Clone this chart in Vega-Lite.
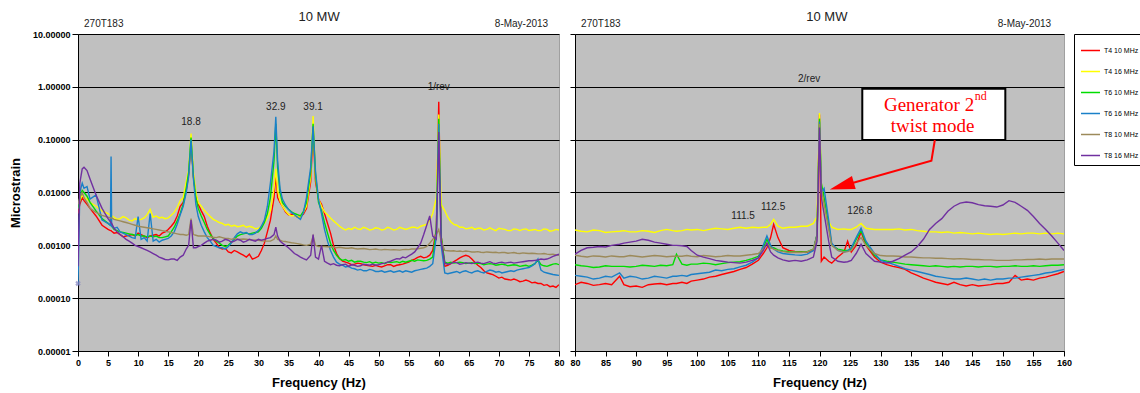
{
"$schema": "https://vega.github.io/schema/vega-lite/v6.json",
"background": "white",
"padding": {"left": 8, "top": 10, "right": 0, "bottom": 0},
"config": {
  "font": "Liberation Sans",
  "view": {"fill": "#c0c0c0", "stroke": "#a0a0a0", "strokeWidth": 1},
  "axis": {"labelFont": "Liberation Sans", "labelFontWeight": "bold", "labelFontSize": 9, "labelColor": "#000", "tickColor": "#000", "domainColor": "#000", "gridColor": "#000", "gridOpacity": 1, "gridWidth": 1, "titleFont": "Liberation Sans", "titleFontWeight": "bold", "titleFontSize": 13, "titleColor": "#000"},
  "axisX": {"labelOverlap": false, "labelFlush": false, "grid": false, "tickSize": 5, "labelPadding": 2, "titlePadding": 9},
  "axisY": {"grid": true},
  "legend": {"labelFont": "Liberation Sans", "labelFontSize": 7, "labelColor": "#000", "symbolType": "stroke", "symbolSize": 360, "symbolStrokeWidth": 1.5, "strokeColor": "#000", "fillColor": "#fff", "padding": 6, "rowPadding": 7, "labelOffset": 3, "offset": 1},
  "concat": {"spacing": 4},
  "text": {"font": "Liberation Sans"}
},
"datasets": {
  "names": [
    {"k": "r", "series": "T4 10 MHz"}, {"k": "y", "series": "T4 16 MHz"}, {"k": "g", "series": "T6 10 MHz"},
    {"k": "b", "series": "T6 16 MHz"}, {"k": "n", "series": "T8 10 MHz"}, {"k": "p", "series": "T8 16 MHz"}
  ],
  "peaksL": [
    {"f": 18.8, "v": 0.217, "t": "18.8"}, {"f": 32.9, "v": 0.42, "t": "32.9"}, {"f": 39.1, "v": 0.42, "t": "39.1"}, {"f": 60, "v": 1.0, "t": "1/rev"}
  ],
  "peaksR": [
    {"f": 118.3, "v": 1.4, "t": "2/rev"}, {"f": 107.5, "v": 0.00357, "t": "111.5"}, {"f": 112.4, "v": 0.00528, "t": "112.5"}, {"f": 126.6, "v": 0.00444, "t": "126.8"}
  ],
  "arrow": [
    {"f": 138.87, "v": 0.0986, "o": 0}, {"f": 138.31, "v": 0.040, "o": 1}, {"f": 123.65, "v": 0.0133, "o": 2}
  ],
  "spec": [
{"f":0,"r":4e-3,"y":5e-3,"g":5e-3,"b":1.8e-4,"n":6e-3,"p":4e-4},
{"f":0.3,"r":6e-3,"y":7e-3,"g":8e-3,"b":1e-2,"n":8e-3,"p":1.5e-2},
{"f":0.7,"r":8e-3,"y":9e-3,"g":1.1e-2,"b":1.5e-2,"n":1e-2,"p":2.8e-2},
{"f":1,"r":7e-3,"y":8e-3,"g":1e-2,"b":1.2e-2,"n":8e-3,"p":3e-2},
{"f":1.5,"r":6e-3,"y":7.5e-3,"g":8.5e-3,"b":1.3e-2,"n":6.5e-3,"p":2.6e-2},
{"f":2,"r":5e-3,"y":6.5e-3,"g":6.5e-3,"b":7.5e-3,"n":5e-3,"p":1.8e-2},
{"f":3,"r":3.6e-3,"y":5.5e-3,"g":4.5e-3,"b":9e-3,"n":4.2e-3,"p":9e-3},
{"f":4,"r":2.4e-3,"y":4.5e-3,"g":3.2e-3,"b":3e-3,"n":3.7e-3,"p":5e-3},
{"f":5,"r":2e-3,"y":4e-3,"g":2.6e-3,"b":2.6e-3,"n":3.4e-3,"p":3.2e-3},
{"f":5.4,"r":1.9e-3,"y":3.7e-3,"g":2.4e-3,"b":2.4e-3,"n":3.3e-3,"p":2.8e-3},
{"f":5.5,"r":1.9e-3,"y":3.8e-3,"g":2.4e-3,"b":4.8e-2,"n":3.3e-3,"p":2.7e-3},
{"f":5.6,"r":1.85e-3,"y":3.6e-3,"g":2.3e-3,"b":2.3e-3,"n":3.3e-3,"p":2.6e-3},
{"f":6,"r":1.7e-3,"y":3.4e-3,"g":2e-3,"b":2.1e-3,"n":3.1e-3,"p":2.1e-3},
{"f":6.5,"r":1.75e-3,"y":3.1e-3,"g":1.9e-3,"b":2.2e-3,"n":3e-3,"p":1.8e-3},
{"f":7,"r":1.6e-3,"y":3.2e-3,"g":1.8e-3,"b":1.8e-3,"n":2.9e-3,"p":1.6e-3},
{"f":7.5,"r":1.45e-3,"y":3.5e-3,"g":1.75e-3,"b":1.7e-3,"n":2.8e-3,"p":1.45e-3},
{"f":8,"r":1.5e-3,"y":3.3e-3,"g":1.7e-3,"b":1.6e-3,"n":2.7e-3,"p":1.3e-3},
{"f":8.5,"r":1.55e-3,"y":3e-3,"g":1.65e-3,"b":1.5e-3,"n":2.6e-3,"p":1.2e-3},
{"f":9,"r":1.6e-3,"y":2.9e-3,"g":1.6e-3,"b":1.4e-3,"n":2.5e-3,"p":1.1e-3},
{"f":9.5,"r":1.5e-3,"y":3.2e-3,"g":1.55e-3,"b":1.35e-3,"n":2.4e-3,"p":1e-3},
{"f":10,"r":1.7e-3,"y":3e-3,"g":1.6e-3,"b":3.5e-3,"n":2.3e-3,"p":9.5e-4},
{"f":10.5,"r":1.6e-3,"y":3.1e-3,"g":1.5e-3,"b":1.3e-3,"n":2.25e-3,"p":9e-4},
{"f":11,"r":1.5e-3,"y":3.3e-3,"g":1.5e-3,"b":1.4e-3,"n":2.2e-3,"p":8.5e-4},
{"f":11.5,"r":1.4e-3,"y":3.8e-3,"g":1.45e-3,"b":1.2e-3,"n":2.15e-3,"p":8e-4},
{"f":12,"r":1.5e-3,"y":4.8e-3,"g":1.5e-3,"b":4e-3,"n":2.1e-3,"p":7.5e-4},
{"f":12.5,"r":1.55e-3,"y":3.4e-3,"g":1.45e-3,"b":1.2e-3,"n":2.05e-3,"p":7e-4},
{"f":13,"r":1.6e-3,"y":3.6e-3,"g":1.5e-3,"b":1.3e-3,"n":2e-3,"p":6.5e-4},
{"f":13.5,"r":1.5e-3,"y":3.3e-3,"g":1.4e-3,"b":1.15e-3,"n":1.95e-3,"p":6e-4},
{"f":14,"r":1.7e-3,"y":3.4e-3,"g":1.4e-3,"b":1.25e-3,"n":1.9e-3,"p":5.7e-4},
{"f":14.5,"r":1.8e-3,"y":3.2e-3,"g":1.45e-3,"b":1.3e-3,"n":1.85e-3,"p":5.4e-4},
{"f":15,"r":2e-3,"y":3.3e-3,"g":1.5e-3,"b":1.35e-3,"n":1.8e-3,"p":5.3e-4},
{"f":15.5,"r":2.3e-3,"y":3.7e-3,"g":1.8e-3,"b":1.5e-3,"n":1.75e-3,"p":5.5e-4},
{"f":16,"r":2.7e-3,"y":4.2e-3,"g":2.2e-3,"b":1.8e-3,"n":1.7e-3,"p":5.5e-4},
{"f":16.5,"r":3.6e-3,"y":5.2e-3,"g":2.9e-3,"b":2.5e-3,"n":1.65e-3,"p":5.2e-4},
{"f":17,"r":5.5e-3,"y":7e-3,"g":4e-3,"b":3.8e-3,"n":1.6e-3,"p":6e-4},
{"f":17.5,"r":6.5e-3,"y":8e-3,"g":6e-3,"b":5.5e-3,"n":1.6e-3,"p":6.5e-4},
{"f":18,"r":1.1e-2,"y":1.6e-2,"g":1.2e-2,"b":1e-2,"n":1.55e-3,"p":8.5e-4},
{"f":18.4,"r":2.2e-2,"y":2.6e-2,"g":2.4e-2,"b":2e-2,"n":1.6e-3,"p":1e-3},
{"f":18.8,"r":0.09,"y":0.13,"g":0.11,"b":0.1,"n":3.2e-3,"p":3e-3},
{"f":19.2,"r":2e-2,"y":2.4e-2,"g":2e-2,"b":1.8e-2,"n":1.6e-3,"p":9e-4},
{"f":19.6,"r":9e-3,"y":1e-2,"g":8e-3,"b":6e-3,"n":1.55e-3,"p":9e-4},
{"f":20,"r":6e-3,"y":6.5e-3,"g":5e-3,"b":3.5e-3,"n":1.5e-3,"p":9.5e-4},
{"f":20.5,"r":4.5e-3,"y":5.5e-3,"g":3.6e-3,"b":2.4e-3,"n":1.5e-3,"p":1e-3},
{"f":21,"r":3.5e-3,"y":4.6e-3,"g":2.7e-3,"b":1.8e-3,"n":1.5e-3,"p":1.1e-3},
{"f":21.5,"r":2.3e-3,"y":4e-3,"g":2e-3,"b":1.4e-3,"n":1.48e-3,"p":1.2e-3},
{"f":22,"r":1.7e-3,"y":3.5e-3,"g":1.6e-3,"b":1.2e-3,"n":1.45e-3,"p":1.25e-3},
{"f":22.5,"r":1.3e-3,"y":3.1e-3,"g":1.35e-3,"b":1e-3,"n":1.42e-3,"p":1.3e-3},
{"f":23,"r":1.1e-3,"y":2.9e-3,"g":1.2e-3,"b":9.5e-4,"n":1.4e-3,"p":1.25e-3},
{"f":23.5,"r":9e-4,"y":2.7e-3,"g":1.1e-3,"b":9e-4,"n":1.45e-3,"p":1.15e-3},
{"f":24,"r":8.5e-4,"y":2.6e-3,"g":1e-3,"b":9e-4,"n":1.4e-3,"p":1.2e-3},
{"f":24.5,"r":8.8e-4,"y":2.4e-3,"g":9.5e-4,"b":8.5e-4,"n":1.35e-3,"p":1.3e-3},
{"f":25,"r":7.5e-4,"y":2.5e-3,"g":1e-3,"b":9.5e-4,"n":1.35e-3,"p":1.25e-3},
{"f":25.5,"r":7.2e-4,"y":2.3e-3,"g":1.15e-3,"b":1.1e-3,"n":1.3e-3,"p":1.15e-3},
{"f":26,"r":8e-4,"y":2.4e-3,"g":1.3e-3,"b":1.4e-3,"n":1.35e-3,"p":1.2e-3},
{"f":26.5,"r":7.5e-4,"y":2.25e-3,"g":1.5e-3,"b":1.65e-3,"n":1.3e-3,"p":1.3e-3},
{"f":27,"r":7e-4,"y":2.3e-3,"g":1.6e-3,"b":1.8e-3,"n":1.3e-3,"p":1.25e-3},
{"f":27.5,"r":6.5e-4,"y":2.4e-3,"g":1.65e-3,"b":1.7e-3,"n":1.32e-3,"p":1.15e-3},
{"f":28,"r":6e-4,"y":2.2e-3,"g":1.7e-3,"b":1.75e-3,"n":1.3e-3,"p":1.2e-3},
{"f":28.5,"r":6.8e-4,"y":2.3e-3,"g":1.65e-3,"b":1.6e-3,"n":1.28e-3,"p":1.3e-3},
{"f":29,"r":5.5e-4,"y":2.2e-3,"g":1.7e-3,"b":1.6e-3,"n":1.25e-3,"p":1.25e-3},
{"f":29.5,"r":5.8e-4,"y":2.05e-3,"g":1.75e-3,"b":1.7e-3,"n":1.27e-3,"p":1.2e-3},
{"f":30,"r":6.2e-4,"y":2.1e-3,"g":1.8e-3,"b":1.9e-3,"n":1.25e-3,"p":1.3e-3},
{"f":30.5,"r":8e-4,"y":2.3e-3,"g":2.1e-3,"b":2.3e-3,"n":1.22e-3,"p":1.25e-3},
{"f":31,"r":1.1e-3,"y":2.6e-3,"g":2.7e-3,"b":3e-3,"n":1.2e-3,"p":1.3e-3},
{"f":31.5,"r":1.8e-3,"y":3.3e-3,"g":4e-3,"b":5.5e-3,"n":1.2e-3,"p":1.35e-3},
{"f":32,"r":3e-3,"y":4.5e-3,"g":8e-3,"b":1.5e-2,"n":1.2e-3,"p":1.4e-3},
{"f":32.6,"r":8e-3,"y":1.2e-2,"g":4e-2,"b":6e-2,"n":1.3e-3,"p":1.6e-3},
{"f":32.9,"r":2.2e-2,"y":2.8e-2,"g":0.2,"b":0.27,"n":1.5e-3,"p":2.2e-3},
{"f":33.2,"r":8e-3,"y":1.1e-2,"g":3e-2,"b":4e-2,"n":1.3e-3,"p":1.5e-3},
{"f":33.6,"r":6.5e-3,"y":7e-3,"g":1e-2,"b":1.2e-2,"n":1.25e-3,"p":1.2e-3},
{"f":34,"r":5.5e-3,"y":5.5e-3,"g":6.5e-3,"b":7.5e-3,"n":1.2e-3,"p":1.1e-3},
{"f":34.5,"r":4.3e-3,"y":4.5e-3,"g":5.5e-3,"b":5.8e-3,"n":1.18e-3,"p":1e-3},
{"f":35,"r":3.8e-3,"y":3.9e-3,"g":4.8e-3,"b":4.8e-3,"n":1.15e-3,"p":9e-4},
{"f":35.5,"r":3.9e-3,"y":3.6e-3,"g":4.3e-3,"b":4.2e-3,"n":1.12e-3,"p":8e-4},
{"f":36,"r":3.7e-3,"y":3.7e-3,"g":4e-3,"b":3.8e-3,"n":1.1e-3,"p":7e-4},
{"f":36.5,"r":3.4e-3,"y":3.4e-3,"g":3.8e-3,"b":3.4e-3,"n":1.08e-3,"p":6.5e-4},
{"f":37,"r":3.5e-3,"y":3.5e-3,"g":3.6e-3,"b":3.1e-3,"n":1.05e-3,"p":6e-4},
{"f":37.5,"r":3.9e-3,"y":4.2e-3,"g":4.4e-3,"b":4.2e-3,"n":1.02e-3,"p":5.6e-4},
{"f":38,"r":5e-3,"y":5.5e-3,"g":6.5e-3,"b":8e-3,"n":1e-3,"p":5.3e-4},
{"f":38.7,"r":1.6e-2,"y":2e-2,"g":2.5e-2,"b":3e-2,"n":1.05e-3,"p":6.5e-4},
{"f":39.1,"r":0.15,"y":0.28,"g":0.2,"b":0.18,"n":1.5e-3,"p":1.6e-3},
{"f":39.5,"r":1.6e-2,"y":2e-2,"g":2.2e-2,"b":2.5e-2,"n":1e-3,"p":6e-4},
{"f":40,"r":7.5e-3,"y":7.5e-3,"g":6.5e-3,"b":7.5e-3,"n":9.5e-4,"p":5.5e-4},
{"f":40.5,"r":6e-3,"y":5.5e-3,"g":4.5e-3,"b":4e-3,"n":9.5e-4,"p":1e-3},
{"f":41,"r":4e-3,"y":4.3e-3,"g":2.7e-3,"b":2e-3,"n":9.5e-4,"p":5e-4},
{"f":41.5,"r":2.6e-3,"y":3.8e-3,"g":1.7e-3,"b":1.2e-3,"n":9.4e-4,"p":4.6e-4},
{"f":42,"r":1.7e-3,"y":3.3e-3,"g":1.1e-3,"b":8e-4,"n":9.3e-4,"p":4.3e-4},
{"f":42.5,"r":1e-3,"y":2.9e-3,"g":8e-4,"b":6e-4,"n":9.2e-4,"p":4.5e-4},
{"f":43,"r":7e-4,"y":2.6e-3,"g":6.5e-4,"b":4.8e-4,"n":9e-4,"p":4.2e-4},
{"f":43.5,"r":5.6e-4,"y":2.3e-3,"g":5.6e-4,"b":4.4e-4,"n":9.2e-4,"p":4.1e-4},
{"f":44,"r":5e-4,"y":2.1e-3,"g":5.2e-4,"b":4.2e-4,"n":9e-4,"p":4.3e-4},
{"f":44.5,"r":4.8e-4,"y":1.95e-3,"g":5.4e-4,"b":3.9e-4,"n":8.8e-4,"p":4.4e-4},
{"f":45,"r":4.6e-4,"y":2.1e-3,"g":5e-4,"b":4e-4,"n":8.8e-4,"p":4e-4},
{"f":45.5,"r":4.3e-4,"y":2e-3,"g":5.2e-4,"b":3.7e-4,"n":9e-4,"p":4.3e-4},
{"f":46,"r":4.4e-4,"y":2.2e-3,"g":4.8e-4,"b":3.6e-4,"n":8.7e-4,"p":4.2e-4},
{"f":46.5,"r":4.6e-4,"y":2.05e-3,"g":5e-4,"b":3.4e-4,"n":8.5e-4,"p":4e-4},
{"f":47,"r":4.5e-4,"y":2e-3,"g":5e-4,"b":3.5e-4,"n":8.6e-4,"p":4.1e-4},
{"f":47.5,"r":4.3e-4,"y":2.2e-3,"g":4.8e-4,"b":3.3e-4,"n":8.7e-4,"p":4.4e-4},
{"f":48,"r":4.2e-4,"y":2.1e-3,"g":4.7e-4,"b":3.3e-4,"n":8.5e-4,"p":4.3e-4},
{"f":48.5,"r":4.1e-4,"y":1.95e-3,"g":4.9e-4,"b":3.5e-4,"n":8.3e-4,"p":4.2e-4},
{"f":49,"r":4e-4,"y":2e-3,"g":4.6e-4,"b":3.4e-4,"n":8.4e-4,"p":4.4e-4},
{"f":49.5,"r":4.2e-4,"y":2.15e-3,"g":4.8e-4,"b":3.2e-4,"n":8.5e-4,"p":4.2e-4},
{"f":50,"r":4e-4,"y":2.1e-3,"g":4.6e-4,"b":3.2e-4,"n":8.3e-4,"p":4.3e-4},
{"f":50.5,"r":3.9e-4,"y":1.95e-3,"g":4.7e-4,"b":3.3e-4,"n":8.2e-4,"p":4.5e-4},
{"f":51,"r":4.1e-4,"y":2e-3,"g":4.5e-4,"b":3.1e-4,"n":8.4e-4,"p":4.6e-4},
{"f":51.5,"r":4.3e-4,"y":2.2e-3,"g":4.8e-4,"b":3.2e-4,"n":8.3e-4,"p":4.8e-4},
{"f":52,"r":4.3e-4,"y":2.1e-3,"g":4.7e-4,"b":3.3e-4,"n":8.2e-4,"p":5e-4},
{"f":52.5,"r":4e-4,"y":1.95e-3,"g":4.8e-4,"b":3.1e-4,"n":8.3e-4,"p":5.3e-4},
{"f":53,"r":4.2e-4,"y":2e-3,"g":4.9e-4,"b":3.2e-4,"n":8.2e-4,"p":5.6e-4},
{"f":53.5,"r":4.3e-4,"y":2.2e-3,"g":4.7e-4,"b":3.3e-4,"n":8.1e-4,"p":5.5e-4},
{"f":54,"r":4.4e-4,"y":2.1e-3,"g":5e-4,"b":3.1e-4,"n":8.3e-4,"p":6e-4},
{"f":54.5,"r":4.6e-4,"y":2e-3,"g":4.8e-4,"b":3.3e-4,"n":8.4e-4,"p":5.8e-4},
{"f":55,"r":4.8e-4,"y":2.1e-3,"g":5e-4,"b":3.2e-4,"n":8.3e-4,"p":6.3e-4},
{"f":55.5,"r":5.2e-4,"y":2.2e-3,"g":5.2e-4,"b":3.1e-4,"n":8.5e-4,"p":6.8e-4},
{"f":56,"r":5.5e-4,"y":2.2e-3,"g":5e-4,"b":3.3e-4,"n":8.5e-4,"p":7.5e-4},
{"f":56.5,"r":5.9e-4,"y":2.1e-3,"g":5.3e-4,"b":3.4e-4,"n":8.6e-4,"p":9e-4},
{"f":57,"r":6.2e-4,"y":2.3e-3,"g":5.2e-4,"b":3.5e-4,"n":8.8e-4,"p":1.1e-3},
{"f":57.5,"r":5.8e-4,"y":2.4e-3,"g":5.1e-4,"b":3.6e-4,"n":9e-4,"p":1.6e-3},
{"f":58,"r":6e-4,"y":2.5e-3,"g":5.2e-4,"b":3.7e-4,"n":9.5e-4,"p":2.4e-3},
{"f":58.5,"r":6.5e-4,"y":3e-3,"g":5.5e-4,"b":4e-4,"n":1.1e-3,"p":3.6e-3},
{"f":59,"r":8e-4,"y":4e-3,"g":6e-4,"b":4.5e-4,"n":1.3e-3,"p":1.5e-3},
{"f":59.6,"r":2e-3,"y":8e-3,"g":2e-3,"b":1.5e-3,"n":1.6e-3,"p":1.3e-3},
{"f":60,"r":0.52,"y":0.3,"g":0.25,"b":0.2,"n":2e-3,"p":0.14},
{"f":60.4,"r":1.5e-3,"y":6e-3,"g":1.5e-3,"b":1e-3,"n":1.2e-3,"p":1.2e-3},
{"f":61,"r":4e-4,"y":4.5e-3,"g":4.8e-4,"b":3e-4,"n":8e-4,"p":4.6e-4},
{"f":61.5,"r":4.2e-4,"y":3.4e-3,"g":4.6e-4,"b":2.9e-4,"n":7.9e-4,"p":4.4e-4},
{"f":62,"r":4.5e-4,"y":2.8e-3,"g":4.8e-4,"b":3e-4,"n":7.8e-4,"p":4.5e-4},
{"f":62.5,"r":4.9e-4,"y":2.5e-3,"g":4.6e-4,"b":3.1e-4,"n":7.9e-4,"p":4.8e-4},
{"f":63,"r":5.3e-4,"y":2.4e-3,"g":4.7e-4,"b":3.2e-4,"n":7.7e-4,"p":4.7e-4},
{"f":63.5,"r":5.8e-4,"y":2.2e-3,"g":4.8e-4,"b":3e-4,"n":7.8e-4,"p":4.4e-4},
{"f":64,"r":6.2e-4,"y":2.2e-3,"g":4.7e-4,"b":3.2e-4,"n":7.6e-4,"p":4.5e-4},
{"f":64.5,"r":6.5e-4,"y":2.05e-3,"g":4.5e-4,"b":3.3e-4,"n":7.8e-4,"p":4.7e-4},
{"f":65,"r":6.2e-4,"y":2.1e-3,"g":4.6e-4,"b":3.1e-4,"n":7.7e-4,"p":4.6e-4},
{"f":65.5,"r":5.5e-4,"y":2.2e-3,"g":4.7e-4,"b":3e-4,"n":7.5e-4,"p":4.5e-4},
{"f":66,"r":4.8e-4,"y":2e-3,"g":4.5e-4,"b":3.2e-4,"n":7.5e-4,"p":4.7e-4},
{"f":66.5,"r":4.2e-4,"y":2.1e-3,"g":4.6e-4,"b":3.3e-4,"n":7.6e-4,"p":4.8e-4},
{"f":67,"r":3.8e-4,"y":2.1e-3,"g":4.5e-4,"b":3.1e-4,"n":7.4e-4,"p":4.6e-4},
{"f":67.5,"r":3.3e-4,"y":1.95e-3,"g":4.3e-4,"b":3e-4,"n":7.3e-4,"p":4.5e-4},
{"f":68,"r":3e-4,"y":2e-3,"g":4.4e-4,"b":3.2e-4,"n":7.5e-4,"p":4.7e-4},
{"f":68.5,"r":2.9e-4,"y":2.15e-3,"g":4.5e-4,"b":3.4e-4,"n":7.4e-4,"p":4.9e-4},
{"f":69,"r":2.8e-4,"y":2e-3,"g":4.4e-4,"b":3.3e-4,"n":7.3e-4,"p":4.6e-4},
{"f":69.5,"r":2.6e-4,"y":1.9e-3,"g":4.2e-4,"b":3.1e-4,"n":7.4e-4,"p":4.5e-4},
{"f":70,"r":2.4e-4,"y":2.1e-3,"g":4.3e-4,"b":3.2e-4,"n":7.2e-4,"p":4.7e-4},
{"f":70.5,"r":2.5e-4,"y":2.05e-3,"g":4.4e-4,"b":3e-4,"n":7.3e-4,"p":4.8e-4},
{"f":71,"r":2.3e-4,"y":2e-3,"g":4.3e-4,"b":3.1e-4,"n":7.3e-4,"p":4.6e-4},
{"f":71.5,"r":2.25e-4,"y":1.9e-3,"g":4.1e-4,"b":3.2e-4,"n":7.1e-4,"p":4.7e-4},
{"f":72,"r":2.2e-4,"y":1.9e-3,"g":4.2e-4,"b":3.3e-4,"n":7.2e-4,"p":4.8e-4},
{"f":72.5,"r":2.3e-4,"y":2.05e-3,"g":4.3e-4,"b":3.2e-4,"n":7.3e-4,"p":4.6e-4},
{"f":73,"r":2.2e-4,"y":2e-3,"g":4.2e-4,"b":3.4e-4,"n":7.1e-4,"p":4.7e-4},
{"f":73.5,"r":2.05e-4,"y":1.9e-3,"g":4e-4,"b":3.5e-4,"n":7e-4,"p":4.8e-4},
{"f":74,"r":2.1e-4,"y":2e-3,"g":4.1e-4,"b":3.6e-4,"n":7.2e-4,"p":4.9e-4},
{"f":74.5,"r":2.2e-4,"y":2.05e-3,"g":4.2e-4,"b":3.7e-4,"n":7.1e-4,"p":5e-4},
{"f":75,"r":2.1e-4,"y":1.9e-3,"g":4e-4,"b":3.8e-4,"n":7e-4,"p":5.1e-4},
{"f":75.5,"r":1.95e-4,"y":1.95e-3,"g":4.2e-4,"b":4.1e-4,"n":7.1e-4,"p":5.1e-4},
{"f":76,"r":2e-4,"y":2e-3,"g":4.5e-4,"b":4.5e-4,"n":7e-4,"p":5.2e-4},
{"f":76.5,"r":1.9e-4,"y":1.9e-3,"g":5.3e-4,"b":5.5e-4,"n":6.9e-4,"p":5.3e-4},
{"f":77,"r":1.9e-4,"y":1.9e-3,"g":4.3e-4,"b":3.4e-4,"n":6.9e-4,"p":5.5e-4},
{"f":77.5,"r":1.75e-4,"y":2.05e-3,"g":4.1e-4,"b":3.1e-4,"n":7e-4,"p":5.4e-4},
{"f":78,"r":1.8e-4,"y":2e-3,"g":4e-4,"b":3e-4,"n":6.8e-4,"p":5.5e-4},
{"f":78.5,"r":1.65e-4,"y":1.85e-3,"g":4.2e-4,"b":2.9e-4,"n":6.7e-4,"p":5.8e-4},
{"f":79,"r":1.7e-4,"y":1.9e-3,"g":4.4e-4,"b":2.8e-4,"n":6.8e-4,"p":6.2e-4},
{"f":79.5,"r":1.6e-4,"y":2e-3,"g":4.5e-4,"b":2.75e-4,"n":6.6e-4,"p":6.5e-4},
{"f":80,"r":1.8e-4,"y":1.95e-3,"g":4.3e-4,"b":2.7e-4,"n":6.5e-4,"p":6.8e-4},
{"f":81,"r":2e-4,"y":1.85e-3,"g":4.1e-4,"b":2.6e-4,"n":6.2e-4,"p":8e-4},
{"f":82,"r":1.9e-4,"y":1.8e-3,"g":4e-4,"b":2.5e-4,"n":6e-4,"p":9e-4},
{"f":83,"r":1.75e-4,"y":1.95e-3,"g":3.8e-4,"b":2.3e-4,"n":6.3e-4,"p":9.2e-4},
{"f":84,"r":1.8e-4,"y":1.9e-3,"g":3.9e-4,"b":2.4e-4,"n":6.2e-4,"p":9.5e-4},
{"f":85,"r":1.9e-4,"y":1.75e-3,"g":4.1e-4,"b":2.6e-4,"n":6e-4,"p":9.3e-4},
{"f":86,"r":1.8e-4,"y":1.8e-3,"g":4e-4,"b":2.5e-4,"n":6.3e-4,"p":1e-3},
{"f":87.3,"r":2.6e-4,"y":1.85e-3,"g":4e-4,"b":3e-4,"n":6.1e-4,"p":1.05e-3},
{"f":88,"r":1.8e-4,"y":1.9e-3,"g":4e-4,"b":2.4e-4,"n":6.1e-4,"p":1.1e-3},
{"f":89,"r":1.65e-4,"y":1.8e-3,"g":3.9e-4,"b":2.6e-4,"n":6.4e-4,"p":1.15e-3},
{"f":90,"r":1.7e-4,"y":1.8e-3,"g":4e-4,"b":2.5e-4,"n":6.2e-4,"p":1.2e-3},
{"f":91,"r":1.6e-4,"y":1.9e-3,"g":4.2e-4,"b":2.3e-4,"n":6e-4,"p":1.3e-3},
{"f":92,"r":1.8e-4,"y":1.85e-3,"g":4.1e-4,"b":2.4e-4,"n":6.2e-4,"p":1.25e-3},
{"f":93,"r":1.85e-4,"y":1.75e-3,"g":4e-4,"b":2.6e-4,"n":6.4e-4,"p":1.15e-3},
{"f":94,"r":1.9e-4,"y":1.9e-3,"g":4.2e-4,"b":2.5e-4,"n":6.3e-4,"p":1.1e-3},
{"f":95,"r":1.8e-4,"y":2e-3,"g":4.1e-4,"b":2.4e-4,"n":6.1e-4,"p":1.05e-3},
{"f":96,"r":1.9e-4,"y":1.9e-3,"g":4.3e-4,"b":2.6e-4,"n":6.2e-4,"p":1e-3},
{"f":96.6,"r":1.9e-4,"y":1.85e-3,"g":6.8e-4,"b":2.6e-4,"n":6.2e-4,"p":1e-3},
{"f":97.5,"r":2e-4,"y":1.9e-3,"g":4.4e-4,"b":2.7e-4,"n":6.2e-4,"p":9.8e-4},
{"f":98.3,"r":1.9e-4,"y":2e-3,"g":4.2e-4,"b":2.6e-4,"n":6.4e-4,"p":9.5e-4},
{"f":99,"r":2.1e-4,"y":1.95e-3,"g":4.4e-4,"b":2.8e-4,"n":6.2e-4,"p":8e-4},
{"f":100,"r":2.2e-4,"y":2e-3,"g":4.4e-4,"b":2.9e-4,"n":6.1e-4,"p":6.5e-4},
{"f":101,"r":2.3e-4,"y":1.9e-3,"g":4.6e-4,"b":3e-4,"n":6.4e-4,"p":6e-4},
{"f":102,"r":2.5e-4,"y":2e-3,"g":4.5e-4,"b":3.1e-4,"n":6.3e-4,"p":5.6e-4},
{"f":103,"r":2.6e-4,"y":2.1e-3,"g":4.3e-4,"b":3.4e-4,"n":6.1e-4,"p":5.2e-4},
{"f":104,"r":2.8e-4,"y":2.05e-3,"g":4.5e-4,"b":3.3e-4,"n":6.2e-4,"p":5e-4},
{"f":105,"r":3e-4,"y":2e-3,"g":4.7e-4,"b":3.5e-4,"n":6.4e-4,"p":4.8e-4},
{"f":106,"r":3.2e-4,"y":2.1e-3,"g":4.8e-4,"b":3.6e-4,"n":6.3e-4,"p":4.7e-4},
{"f":107,"r":3.5e-4,"y":2.2e-3,"g":4.9e-4,"b":3.9e-4,"n":6.3e-4,"p":4.6e-4},
{"f":108,"r":3.8e-4,"y":2.1e-3,"g":5.2e-4,"b":4.2e-4,"n":6.5e-4,"p":4.8e-4},
{"f":109,"r":4.4e-4,"y":2.2e-3,"g":5.6e-4,"b":4.8e-4,"n":6.7e-4,"p":5.2e-4},
{"f":110,"r":5.2e-4,"y":2.15e-3,"g":6.2e-4,"b":5.8e-4,"n":7e-4,"p":5.8e-4},
{"f":110.8,"r":7e-4,"y":2.2e-3,"g":9e-4,"b":1e-3,"n":8.5e-4,"p":8e-4},
{"f":111.4,"r":9e-4,"y":2.2e-3,"g":1.3e-3,"b":1.5e-3,"n":1.1e-3,"p":1.1e-3},
{"f":112,"r":1.4e-3,"y":2.5e-3,"g":9e-4,"b":1e-3,"n":9e-4,"p":7.5e-4},
{"f":112.5,"r":2.5e-3,"y":3.1e-3,"g":9e-4,"b":8.5e-4,"n":8.5e-4,"p":6.5e-4},
{"f":113.2,"r":1.4e-3,"y":2.3e-3,"g":8.2e-4,"b":7.5e-4,"n":8e-4,"p":5.8e-4},
{"f":114,"r":9e-4,"y":2.1e-3,"g":7.8e-4,"b":7e-4,"n":7.6e-4,"p":5.3e-4},
{"f":115,"r":8e-4,"y":2.2e-3,"g":7.6e-4,"b":6.8e-4,"n":7.3e-4,"p":5e-4},
{"f":116,"r":7.7e-4,"y":2.2e-3,"g":7.5e-4,"b":6.6e-4,"n":7.4e-4,"p":5.2e-4},
{"f":117,"r":7.6e-4,"y":2.3e-3,"g":7.5e-4,"b":6.5e-4,"n":7.3e-4,"p":5e-4},
{"f":118,"r":7.5e-4,"y":2.3e-3,"g":7.6e-4,"b":6.8e-4,"n":7.5e-4,"p":5.3e-4},
{"f":119,"r":8e-4,"y":2.6e-3,"g":8.5e-4,"b":8e-4,"n":8.5e-4,"p":6e-4},
{"f":119.6,"r":1.6e-3,"y":3.5e-3,"g":1.6e-3,"b":1.6e-3,"n":1.5e-3,"p":1.2e-3},
{"f":120,"r":0.3,"y":0.32,"g":0.25,"b":0.22,"n":0.2,"p":0.17},
{"f":120.3,"r":5e-4,"y":1.5e-2,"g":1.5e-2,"b":1e-2,"n":1.2e-2,"p":8e-3},
{"f":120.75,"r":6e-4,"y":4e-3,"g":8e-3,"b":1.2e-2,"n":6e-3,"p":4e-3},
{"f":121.5,"r":5e-4,"y":2.8e-3,"g":2.5e-3,"b":3e-3,"n":2e-3,"p":1.2e-3},
{"f":122,"r":4.6e-4,"y":2.2e-3,"g":1e-3,"b":1.1e-3,"n":1e-3,"p":6e-4},
{"f":123,"r":6e-4,"y":2e-3,"g":8.5e-4,"b":8e-4,"n":8e-4,"p":5e-4},
{"f":124,"r":7.5e-4,"y":2.05e-3,"g":8e-4,"b":7.5e-4,"n":7.5e-4,"p":4.8e-4},
{"f":124.6,"r":1.2e-3,"y":2e-3,"g":8e-4,"b":7.8e-4,"n":7.6e-4,"p":4.9e-4},
{"f":125.2,"r":7.5e-4,"y":2e-3,"g":8.5e-4,"b":9e-4,"n":8e-4,"p":5.2e-4},
{"f":126,"r":1e-3,"y":2.2e-3,"g":1.3e-3,"b":1.4e-3,"n":1.1e-3,"p":7e-4},
{"f":126.8,"r":1.8e-3,"y":2.6e-3,"g":1.9e-3,"b":2.1e-3,"n":1.4e-3,"p":1.05e-3},
{"f":127.6,"r":1e-3,"y":2.1e-3,"g":1.1e-3,"b":1.2e-3,"n":1e-3,"p":7e-4},
{"f":129,"r":6e-4,"y":2e-3,"g":6.5e-4,"b":7e-4,"n":7e-4,"p":5e-4},
{"f":130,"r":4.8e-4,"y":2e-3,"g":5.3e-4,"b":5.2e-4,"n":6.4e-4,"p":4.8e-4},
{"f":131,"r":4.3e-4,"y":2e-3,"g":5e-4,"b":4.8e-4,"n":6.3e-4,"p":4.6e-4},
{"f":132,"r":4e-4,"y":2e-3,"g":4.8e-4,"b":4.4e-4,"n":6.3e-4,"p":5e-4},
{"f":133,"r":3.8e-4,"y":2.05e-3,"g":4.6e-4,"b":4e-4,"n":6.2e-4,"p":5.6e-4},
{"f":134,"r":3.5e-4,"y":1.95e-3,"g":4.4e-4,"b":3.6e-4,"n":6e-4,"p":6.5e-4},
{"f":135,"r":3e-4,"y":2e-3,"g":4.3e-4,"b":3.4e-4,"n":6e-4,"p":7.5e-4},
{"f":136,"r":2.7e-4,"y":1.9e-3,"g":4.2e-4,"b":3.2e-4,"n":5.9e-4,"p":9.5e-4},
{"f":137,"r":2.4e-4,"y":1.85e-3,"g":4.1e-4,"b":3e-4,"n":5.8e-4,"p":1.3e-3},
{"f":138,"r":2.2e-4,"y":1.8e-3,"g":4e-4,"b":2.8e-4,"n":5.8e-4,"p":2e-3},
{"f":139,"r":2e-4,"y":1.8e-3,"g":4.1e-4,"b":2.6e-4,"n":5.7e-4,"p":2.6e-3},
{"f":140,"r":1.9e-4,"y":1.75e-3,"g":4e-4,"b":2.5e-4,"n":5.7e-4,"p":3.2e-3},
{"f":141,"r":1.8e-4,"y":1.8e-3,"g":3.9e-4,"b":2.4e-4,"n":5.6e-4,"p":4.4e-3},
{"f":142,"r":2e-4,"y":1.7e-3,"g":4e-4,"b":2.3e-4,"n":5.5e-4,"p":5.5e-3},
{"f":143,"r":1.8e-4,"y":1.75e-3,"g":3.9e-4,"b":2.3e-4,"n":5.6e-4,"p":6.3e-3},
{"f":144,"r":1.7e-4,"y":1.7e-3,"g":4e-4,"b":2.4e-4,"n":5.5e-4,"p":6.6e-3},
{"f":145,"r":1.8e-4,"y":1.65e-3,"g":4e-4,"b":2.3e-4,"n":5.4e-4,"p":6.4e-3},
{"f":146,"r":1.7e-4,"y":1.7e-3,"g":3.9e-4,"b":2.2e-4,"n":5.4e-4,"p":5.9e-3},
{"f":147,"r":1.75e-4,"y":1.65e-3,"g":4e-4,"b":2.3e-4,"n":5.3e-4,"p":5.6e-3},
{"f":148,"r":1.8e-4,"y":1.6e-3,"g":4e-4,"b":2.2e-4,"n":5.3e-4,"p":5.5e-3},
{"f":149,"r":1.9e-4,"y":1.65e-3,"g":3.9e-4,"b":2.3e-4,"n":5.2e-4,"p":5.3e-3},
{"f":150,"r":1.9e-4,"y":1.6e-3,"g":4e-4,"b":2.3e-4,"n":5.2e-4,"p":5.8e-3},
{"f":151,"r":2e-4,"y":1.65e-3,"g":4e-4,"b":2.4e-4,"n":5.2e-4,"p":7e-3},
{"f":152,"r":2.7e-4,"y":1.7e-3,"g":4.1e-4,"b":2.4e-4,"n":5.3e-4,"p":6.5e-3},
{"f":153,"r":2.2e-4,"y":1.65e-3,"g":4e-4,"b":2.5e-4,"n":5.3e-4,"p":5.5e-3},
{"f":154,"r":2.3e-4,"y":1.7e-3,"g":4e-4,"b":2.6e-4,"n":5.4e-4,"p":4.6e-3},
{"f":155,"r":2.2e-4,"y":1.7e-3,"g":4.1e-4,"b":2.7e-4,"n":5.4e-4,"p":3.5e-3},
{"f":156,"r":2.4e-4,"y":1.65e-3,"g":4e-4,"b":2.8e-4,"n":5.5e-4,"p":2.6e-3},
{"f":157,"r":2.5e-4,"y":1.7e-3,"g":4.1e-4,"b":3e-4,"n":5.4e-4,"p":2e-3},
{"f":158,"r":2.7e-4,"y":1.65e-3,"g":4.2e-4,"b":3.1e-4,"n":5.5e-4,"p":1.5e-3},
{"f":159,"r":2.9e-4,"y":1.7e-3,"g":4.2e-4,"b":3.3e-4,"n":5.5e-4,"p":1.1e-3},
{"f":160,"r":3.2e-4,"y":1.65e-3,"g":4.3e-4,"b":3.5e-4,"n":5.5e-4,"p":8e-4}
  ]
},
"hconcat": [
  {
    "width": 481, "height": 317,
    "layer": [
      {
        "data": {"name": "spec"},
        "transform": [
          {"filter": "datum.f <= 80"},
          {"fold": ["r", "y", "g", "b", "n", "p"], "as": ["k", "v"]},
          {"lookup": "k", "from": {"data": {"name": "names"}, "key": "k", "fields": ["series"]}}
        ],
        "mark": {"type": "line", "strokeWidth": 1.4, "clip": true},
        "encoding": {
          "x": {"field": "f", "type": "quantitative", "scale": {"domain": [0, 80], "nice": false, "zero": false},
                "axis": {"values": [0,5,10,15,20,25,30,35,40,45,50,55,60,65,70,75,80], "title": "Frequency (Hz)"}},
          "y": {"field": "v", "type": "quantitative", "scale": {"type": "log", "domain": [0.00001, 10], "nice": false},
                "axis": {"values": [0.00001, 0.0001, 0.001, 0.01, 0.1, 1, 10], "format": ".5f", "tickSize": 6, "labelPadding": 2, "title": "Microstrain", "titlePadding": 10}},
          "color": {"field": "series", "type": "nominal",
                    "scale": {"domain": ["T4 10 MHz", "T4 16 MHz", "T6 10 MHz", "T6 16 MHz", "T8 10 MHz", "T8 16 MHz"],
                              "range": ["#ff0000", "#ffff00", "#00dd00", "#1a80c8", "#9c8a5a", "#7030a0"]},
                    "legend": {"title": null, "orient": "right"}}
        }
      },
      {
        "data": {"name": "peaksL"},
        "mark": {"type": "text", "fontSize": 10, "color": "#222", "baseline": "middle"},
        "encoding": {
          "x": {"field": "f", "type": "quantitative", "axis": {"values": [0,5,10,15,20,25,30,35,40,45,50,55,60,65,70,75,80], "title": "Frequency (Hz)"}},
          "y": {"field": "v", "type": "quantitative", "axis": {"values": [0.00001, 0.0001, 0.001, 0.01, 0.1, 1, 10], "format": ".5f", "tickSize": 6, "labelPadding": 2, "title": "Microstrain", "titlePadding": 10}},
          "text": {"field": "t"}
        }
      },
      {
        "data": {"values": [{"f": 0, "v": 0.00019}]},
        "mark": {"type": "point", "shape": "cross", "angle": 45, "size": 30, "filled": true, "color": "#8080c0"},
        "encoding": {
          "x": {"field": "f", "type": "quantitative", "axis": {"values": [0,5,10,15,20,25,30,35,40,45,50,55,60,65,70,75,80], "title": "Frequency (Hz)"}},
          "y": {"field": "v", "type": "quantitative", "axis": {"values": [0.00001, 0.0001, 0.001, 0.01, 0.1, 1, 10], "format": ".5f", "tickSize": 6, "labelPadding": 2, "title": "Microstrain", "titlePadding": 10}}
        }
      },
      {
        "data": {"values": [{"t": "270T183"}]},
        "mark": {"type": "text", "fontSize": 10, "align": "left", "baseline": "alphabetic", "dy": -7, "color": "#222"},
        "encoding": {
          "x": {"datum": 1, "type": "quantitative", "axis": {"values": [0,5,10,15,20,25,30,35,40,45,50,55,60,65,70,75,80], "title": "Frequency (Hz)"}},
          "y": {"datum": 10, "type": "quantitative", "axis": {"values": [0.00001, 0.0001, 0.001, 0.01, 0.1, 1, 10], "format": ".5f", "tickSize": 6, "labelPadding": 2, "title": "Microstrain", "titlePadding": 10}},
          "text": {"field": "t"}
        }
      },
      {
        "data": {"values": [{"t": "8-May-2013"}]},
        "mark": {"type": "text", "fontSize": 10, "align": "right", "baseline": "alphabetic", "dy": -7, "color": "#222"},
        "encoding": {
          "x": {"datum": 78.2, "type": "quantitative", "axis": {"values": [0,5,10,15,20,25,30,35,40,45,50,55,60,65,70,75,80], "title": "Frequency (Hz)"}},
          "y": {"datum": 10, "type": "quantitative", "axis": {"values": [0.00001, 0.0001, 0.001, 0.01, 0.1, 1, 10], "format": ".5f", "tickSize": 6, "labelPadding": 2, "title": "Microstrain", "titlePadding": 10}},
          "text": {"field": "t"}
        }
      },
      {
        "data": {"values": [{"t": "10 MW"}]},
        "mark": {"type": "text", "fontSize": 13, "align": "center", "baseline": "alphabetic", "dy": -13, "color": "#222"},
        "encoding": {
          "x": {"datum": 40.1, "type": "quantitative", "axis": {"values": [0,5,10,15,20,25,30,35,40,45,50,55,60,65,70,75,80], "title": "Frequency (Hz)"}},
          "y": {"datum": 10, "type": "quantitative", "axis": {"values": [0.00001, 0.0001, 0.001, 0.01, 0.1, 1, 10], "format": ".5f", "tickSize": 6, "labelPadding": 2, "title": "Microstrain", "titlePadding": 10}},
          "text": {"field": "t"}
        }
      }
    ]
  },
  {
    "width": 489, "height": 317,
    "layer": [
      {
        "data": {"name": "spec"},
        "transform": [
          {"filter": "datum.f >= 80"},
          {"fold": ["r", "y", "g", "b", "n", "p"], "as": ["k", "v"]},
          {"lookup": "k", "from": {"data": {"name": "names"}, "key": "k", "fields": ["series"]}}
        ],
        "mark": {"type": "line", "strokeWidth": 1.4, "clip": true},
        "encoding": {
          "x": {"field": "f", "type": "quantitative", "scale": {"domain": [80, 160], "nice": false, "zero": false},
                "axis": {"values": [80,85,90,95,100,105,110,115,120,125,130,135,140,145,150,155,160], "title": "Frequency (Hz)"}},
          "y": {"field": "v", "type": "quantitative", "scale": {"type": "log", "domain": [0.00001, 10], "nice": false},
                "axis": {"values": [0.00001, 0.0001, 0.001, 0.01, 0.1, 1, 10], "labels": false, "tickSize": 5, "title": null}},
          "color": {"field": "series", "type": "nominal",
                    "scale": {"domain": ["T4 10 MHz", "T4 16 MHz", "T6 10 MHz", "T6 16 MHz", "T8 10 MHz", "T8 16 MHz"],
                              "range": ["#ff0000", "#ffff00", "#00dd00", "#1a80c8", "#9c8a5a", "#7030a0"]},
                    "legend": {"title": null, "orient": "right"}}
        }
      },
      {
        "data": {"name": "peaksR"},
        "mark": {"type": "text", "fontSize": 10, "color": "#222", "baseline": "middle"},
        "encoding": {
          "x": {"field": "f", "type": "quantitative", "axis": {"values": [80,85,90,95,100,105,110,115,120,125,130,135,140,145,150,155,160], "title": "Frequency (Hz)"}},
          "y": {"field": "v", "type": "quantitative", "axis": {"values": [0.00001, 0.0001, 0.001, 0.01, 0.1, 1, 10], "labels": false, "tickSize": 5, "title": null}},
          "text": {"field": "t"}
        }
      },
      {
        "data": {"values": [{"x1": 127.0, "x2": 150.4, "y1": 0.0986, "y2": 0.917}]},
        "mark": {"type": "rect", "fill": "#ffffff", "stroke": "#000", "strokeWidth": 2},
        "encoding": {
          "x": {"field": "x1", "type": "quantitative", "axis": {"values": [80,85,90,95,100,105,110,115,120,125,130,135,140,145,150,155,160], "title": "Frequency (Hz)"}}, "x2": {"field": "x2"},
          "y": {"field": "y1", "type": "quantitative", "axis": {"values": [0.00001, 0.0001, 0.001, 0.01, 0.1, 1, 10], "labels": false, "tickSize": 5, "title": null}}, "y2": {"field": "y2"}
        }
      },
      {
        "data": {"values": [{"t": "Generator 2"}]},
        "mark": {"type": "text", "font": "Liberation Serif", "fontSize": 19, "align": "right", "baseline": "alphabetic", "color": "#ff0000"},
        "encoding": {
          "x": {"datum": 145.3, "type": "quantitative", "axis": {"values": [80,85,90,95,100,105,110,115,120,125,130,135,140,145,150,155,160], "title": "Frequency (Hz)"}},
          "y": {"datum": 0.351, "type": "quantitative", "axis": {"values": [0.00001, 0.0001, 0.001, 0.01, 0.1, 1, 10], "labels": false, "tickSize": 5, "title": null}},
          "text": {"field": "t"}
        }
      },
      {
        "data": {"values": [{"t": "nd"}]},
        "mark": {"type": "text", "font": "Liberation Serif", "fontSize": 12, "align": "left", "baseline": "alphabetic", "color": "#ff0000"},
        "encoding": {
          "x": {"datum": 145.4, "type": "quantitative", "axis": {"values": [80,85,90,95,100,105,110,115,120,125,130,135,140,145,150,155,160], "title": "Frequency (Hz)"}},
          "y": {"datum": 0.566, "type": "quantitative", "axis": {"values": [0.00001, 0.0001, 0.001, 0.01, 0.1, 1, 10], "labels": false, "tickSize": 5, "title": null}},
          "text": {"field": "t"}
        }
      },
      {
        "data": {"values": [{"t": "twist mode"}]},
        "mark": {"type": "text", "font": "Liberation Serif", "fontSize": 19, "align": "center", "baseline": "alphabetic", "color": "#ff0000"},
        "encoding": {
          "x": {"datum": 138.5, "type": "quantitative", "axis": {"values": [80,85,90,95,100,105,110,115,120,125,130,135,140,145,150,155,160], "title": "Frequency (Hz)"}},
          "y": {"datum": 0.142, "type": "quantitative", "axis": {"values": [0.00001, 0.0001, 0.001, 0.01, 0.1, 1, 10], "labels": false, "tickSize": 5, "title": null}},
          "text": {"field": "t"}
        }
      },
      {
        "data": {"name": "arrow"},
        "mark": {"type": "line", "color": "#ff0000", "strokeWidth": 2},
        "encoding": {
          "x": {"field": "f", "type": "quantitative", "axis": {"values": [80,85,90,95,100,105,110,115,120,125,130,135,140,145,150,155,160], "title": "Frequency (Hz)"}},
          "y": {"field": "v", "type": "quantitative", "axis": {"values": [0.00001, 0.0001, 0.001, 0.01, 0.1, 1, 10], "labels": false, "tickSize": 5, "title": null}},
          "order": {"field": "o", "type": "quantitative"}
        }
      },
      {
        "data": {"values": [{}]},
        "mark": {"type": "point", "shape": "M0,-1L0.55,1L-0.55,1Z", "size": 625, "angle": 254, "filled": true, "color": "#ff0000", "opacity": 1},
        "encoding": {
          "x": {"datum": 123.65, "type": "quantitative", "axis": {"values": [80,85,90,95,100,105,110,115,120,125,130,135,140,145,150,155,160], "title": "Frequency (Hz)"}},
          "y": {"datum": 0.0133, "type": "quantitative", "axis": {"values": [0.00001, 0.0001, 0.001, 0.01, 0.1, 1, 10], "labels": false, "tickSize": 5, "title": null}}
        }
      },
      {
        "data": {"values": [{"t": "270T183"}]},
        "mark": {"type": "text", "fontSize": 10, "align": "left", "baseline": "alphabetic", "dy": -7, "color": "#222"},
        "encoding": {
          "x": {"datum": 81, "type": "quantitative", "axis": {"values": [80,85,90,95,100,105,110,115,120,125,130,135,140,145,150,155,160], "title": "Frequency (Hz)"}},
          "y": {"datum": 10, "type": "quantitative", "axis": {"values": [0.00001, 0.0001, 0.001, 0.01, 0.1, 1, 10], "labels": false, "tickSize": 5, "title": null}},
          "text": {"field": "t"}
        }
      },
      {
        "data": {"values": [{"t": "8-May-2013"}]},
        "mark": {"type": "text", "fontSize": 10, "align": "right", "baseline": "alphabetic", "dy": -7, "color": "#222"},
        "encoding": {
          "x": {"datum": 157.9, "type": "quantitative", "axis": {"values": [80,85,90,95,100,105,110,115,120,125,130,135,140,145,150,155,160], "title": "Frequency (Hz)"}},
          "y": {"datum": 10, "type": "quantitative", "axis": {"values": [0.00001, 0.0001, 0.001, 0.01, 0.1, 1, 10], "labels": false, "tickSize": 5, "title": null}},
          "text": {"field": "t"}
        }
      },
      {
        "data": {"values": [{"t": "10 MW"}]},
        "mark": {"type": "text", "fontSize": 13, "align": "center", "baseline": "alphabetic", "dy": -13, "color": "#222"},
        "encoding": {
          "x": {"datum": 121.2, "type": "quantitative", "axis": {"values": [80,85,90,95,100,105,110,115,120,125,130,135,140,145,150,155,160], "title": "Frequency (Hz)"}},
          "y": {"datum": 10, "type": "quantitative", "axis": {"values": [0.00001, 0.0001, 0.001, 0.01, 0.1, 1, 10], "labels": false, "tickSize": 5, "title": null}},
          "text": {"field": "t"}
        }
      }
    ]
  }
],
"resolve": {"scale": {"color": "shared"}}
}
